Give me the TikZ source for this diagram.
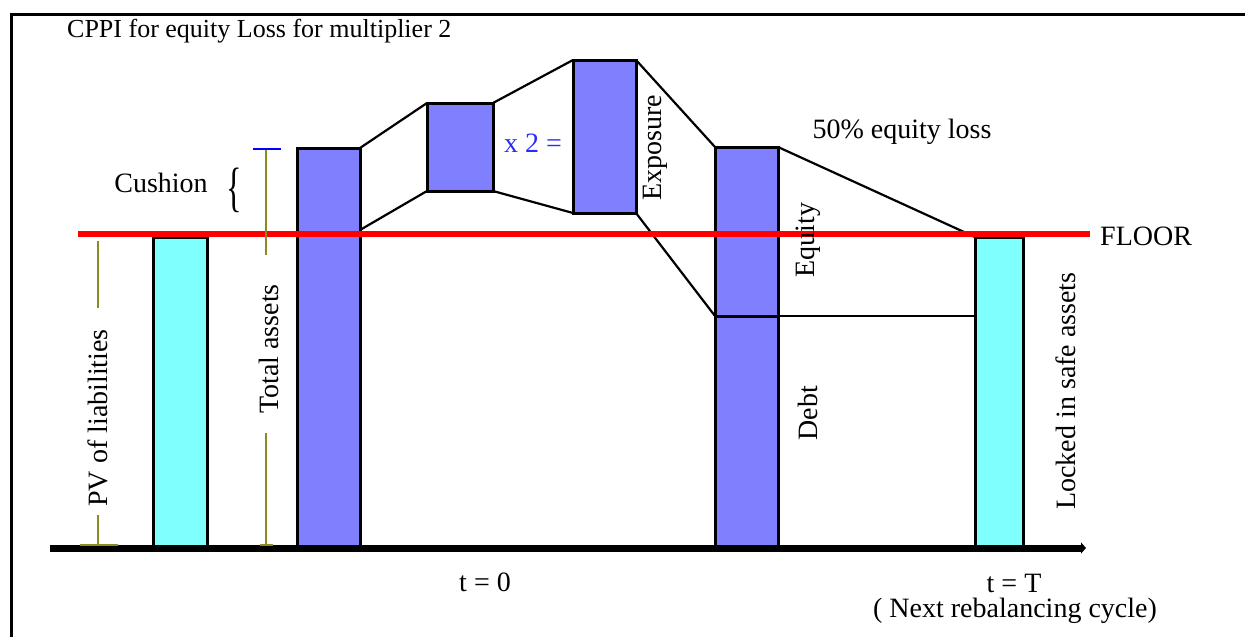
\documentclass[tikz,border=0pt]{standalone}
\usepackage{fontspec}
\usepackage{graphicx}
\setmainfont{Liberation Serif}
\usetikzlibrary{arrows.meta}
\definecolor{barblue}{HTML}{8080FF}
\definecolor{barcyan}{HTML}{80FFFF}
\definecolor{oliveline}{HTML}{8C8C1E}
\definecolor{floorred}{HTML}{FF0000}
\definecolor{ticktext}{HTML}{2B2BFF}
\begin{document}
\begin{tikzpicture}[x=1pt,y=-1pt,
  barbase/.style={draw=black,line width=3pt,inner sep=0pt,outer sep=0pt,anchor=north west},
  bluebar/.style={barbase,fill=barblue},
  cyanbar/.style={barbase,fill=barcyan},
  conn/.style={draw=black,line width=2.2pt},
  guide/.style={draw=oliveline,line width=2.5pt},
  lbl/.style={inner sep=0pt,font=\fontsize{28}{30}\selectfont},
  vlbl/.style={lbl,rotate=90}]
\useasboundingbox (0,0) rectangle (1245,637);
% frame
\coordinate (frTR) at (1245,14);
\coordinate (frTL) at (11,14);
\coordinate (frBL) at (11,637);
\draw[line width=3pt] (frTR) -- (frTL) -- (frBL);
% title
\node[lbl,anchor=west,font=\fontsize{26}{28}\selectfont] (title) at (67,31) {CPPI for equity Loss for multiplier 2};
% bars
\node[cyanbar,minimum width=54pt,minimum height=311pt] (b1) at (153,237) {};
\node[bluebar,minimum width=63pt,minimum height=400pt] (b2) at (297,148) {};
\node[bluebar,minimum width=66pt,minimum height=88pt] (b3) at (427,103) {};
\node[bluebar,minimum width=63pt,minimum height=153pt] (b4) at (573,60) {};
\node[bluebar,minimum width=63pt,minimum height=169pt] (b5e) at (715,147) {};
\node[bluebar,minimum width=63pt,minimum height=232pt] (b5d) at (715,316) {};
\node[cyanbar,minimum width=48pt,minimum height=311pt] (b6) at (975,237) {};
% connectors
\coordinate (b2m) at (360,230);
\draw[conn] (b2.north east) -- (b3.north west);
\draw[conn] (b2m) -- (b3.south west);
\draw[conn] (b3.north east) -- (b4.north west);
\draw[conn] (b3.south east) -- (b4.south west);
\draw[conn] (b4.north east) -- (b5e.north west);
\draw[conn] (b4.south east) -- (b5d.north west);
\draw[conn] (b5e.north east) -- (b6.north west);
\draw[conn] (b5d.north east) -- (b6.west |- b5d.north east);
% floor line
\coordinate (fl0) at (78,234);
\coordinate (fl1) at (1090,234);
\draw[draw=floorred,line width=6pt] (fl0) -- (fl1);
\node[lbl,anchor=west] (floor) at (1100,236) {FLOOR};
% axis
\coordinate (ax0) at (50,548);
\coordinate (ax1) at (1086,548);
\draw[line width=7pt,-{Triangle[length=5pt,width=11pt]}] (ax0) -- (ax1);
% PV of liabilities guide
\node[vlbl] (pv) at (98,418) {PV of liabilities};
\coordinate (pvtop) at (98,241);
\coordinate (pvmid) at (98,308);
\coordinate (pvbot) at (98,545);
\coordinate (pvfl) at (80,545);
\coordinate (pvfr) at (118,545);
\draw[guide] (pvtop) -- (pvmid);
\draw[guide] (pv.west) ++(0,8) -- (pvbot);
\draw[guide,line width=1.5pt] (pvfl) -- (pvfr);
% Total assets guide
\node[vlbl] (ta) at (269,349) {Total assets};
\coordinate (tatop) at (266,149);
\coordinate (tamid) at (266,255);
\coordinate (tabot) at (266,545);
\coordinate (tatl) at (253,149);
\coordinate (tatr) at (281,149);
\coordinate (tafl) at (260,545);
\coordinate (tafr) at (273,545);
\draw[guide] (tatop) -- (tamid);
\draw[guide] (266,433) -- (tabot);
\draw[guide,line width=1.5pt] (tafl) -- (tafr);
\draw[draw=blue,line width=2.5pt] (tatl) -- (tatr);
% cushion
\node[lbl] (cushion) at (161,183) {Cushion};
\node[inner sep=0pt] (brace) at (234,190) {\scalebox{0.6}[1]{\fontsize{54}{54}\selectfont\{}};
% labels
\node[lbl,text=ticktext] (x2) at (533,143) {x 2 =};
\node[vlbl] (expo) at (655,148) {Exposure};
\node[lbl] (loss) at (902,132) {50\% equity loss};
\node[vlbl] (equity) at (808,240) {Equity};
\node[vlbl] (debt) at (808,413) {Debt};
\node[vlbl] (locked) at (1066,391) {Locked in safe assets};
\node[lbl] (t0) at (485,582) {t = 0};
\node[lbl] (tT) at (1014,583) {t = T};
\node[lbl] (next) at (1015,611) {( Next rebalancing cycle)};
\end{tikzpicture}
\end{document}
